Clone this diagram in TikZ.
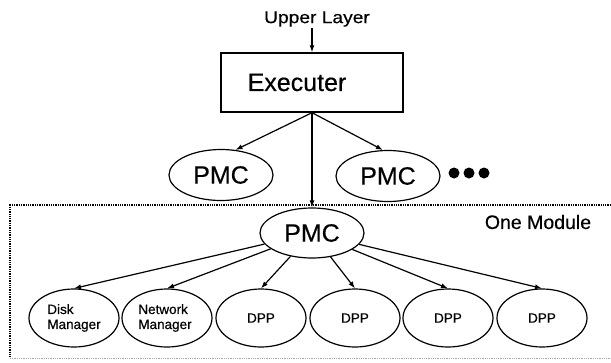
\documentclass[tikz,border=0pt]{standalone}
\usepackage{fontspec}
\setmainfont{Liberation Sans}[FakeBold=0.4]
\usetikzlibrary{shapes.geometric,arrows.meta}
\tikzset{
  arr/.style={line width=1.2pt,-{Latex[length=7pt,width=5pt]}},
  oval/.style={ellipse,draw,line width=1.2pt,inner sep=0pt},
  bigoval/.style={oval,minimum width=104pt,minimum height=51pt,font=\fontsize{25}{28}\selectfont},
  smalloval/.style={oval,minimum width=90pt,minimum height=58pt,font=\fontsize{13.5}{15}\selectfont,align=left},
  dot/.style={circle,fill=black,inner sep=0pt,minimum size=11pt},
}
\begin{document}
\begin{tikzpicture}[x=1pt,y=-1pt]
\useasboundingbox (0,0) rectangle (611,362);
% module frame
\draw[densely dotted,line width=1.3pt] (611,205) -- (10,205) -- (10,358);
\draw[densely dotted,line width=0.8pt,black!35] (10,358) -- (611,358);
% nodes
\node[inner sep=1pt,font=\fontsize{17}{20}\selectfont] (upper) at (317,19) {\scalebox{1.13}[1]{Upper Layer}};
\node[draw,line width=1.4pt,minimum width=182pt,minimum height=59pt,inner sep=0pt,font=\fontsize{25}{28}\selectfont] (exe) at (312,82.5) {Executer\hspace*{30pt}};
\node[bigoval] (pmcL) at (221,175) {PMC};
\node[bigoval] (pmcR) at (388,176) {PMC};
\node[dot] (dot1) at (454,173) {};
\node[dot] (dot2) at (469,173) {};
\node[dot] (dot3) at (484,173) {};
\node[bigoval,minimum height=50pt] (pmc) at (312,233) {PMC};
\node[font=\fontsize{19.5}{22}\selectfont] (mod) at (538,222) {One Module};
\node[smalloval] (dm) at (74,318) {Disk\\Manager};
\node[smalloval] (nm) at (167,318) {Network\hspace*{4pt}\\Manager\hspace*{4pt}};
\node[smalloval] (d1) at (261,318) {DPP};
\node[smalloval] (d2) at (355,318) {DPP};
\node[smalloval] (d3) at (448,318) {DPP};
\node[smalloval] (d4) at (542,318) {DPP};
% connectors
\draw[arr] (exe.north |- upper.south) -- (exe.north);
\draw[arr] (exe.south) -- (pmcL.60);
\draw[arr] (exe.south) -- (pmcR.101);
\draw[arr] (exe.south) -- (pmc.north);
\draw[arr] (pmc) -- (dm.north);
\draw[arr] (pmc) -- (nm.north);
\draw[arr] (pmc) -- (d1.north);
\draw[arr] (pmc) -- (d2.north);
\draw[arr] (pmc) -- (d3.north);
\draw[arr] (pmc) -- (d4.north);
\end{tikzpicture}
\end{document}
